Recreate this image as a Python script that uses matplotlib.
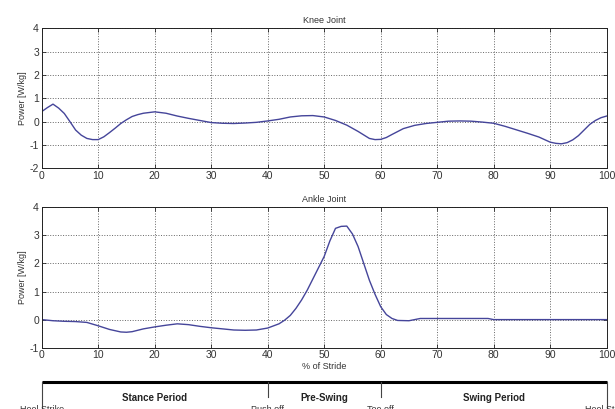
"""
Knee / ankle joint power over the gait stride
"""
import numpy as np
from matplotlib import pyplot as plt

plt.rcParams['font.family'] = ['Liberation Sans', 'DejaVu Sans']
plt.rcParams['axes.unicode_minus'] = False

# knee joint power [W/kg] vs % of stride
knee_x = [0, 1, 2, 3, 4, 5, 6, 7, 8, 9, 10, 11, 12, 13, 14, 15, 16, 17, 18, 20,
          22, 24, 26, 28, 30, 32, 34, 36, 38, 40, 42, 44, 46, 48, 50, 52, 54, 56,
          58, 59, 60, 61, 62, 64, 66, 68, 70, 72, 74, 76, 78, 80, 82, 84, 86, 88,
          90, 91, 92, 93, 94, 95, 96, 97, 98, 99, 100]
knee_p = [0.43, 0.6, 0.75, 0.58, 0.35, 0.0, -0.36, -0.58, -0.72, -0.77, -0.77,
          -0.65, -0.47, -0.28, -0.08, 0.08, 0.22, 0.3, 0.36, 0.42, 0.36, 0.24,
          0.14, 0.05, -0.04, -0.07, -0.08, -0.06, -0.03, 0.03, 0.1, 0.2, 0.25,
          0.26, 0.2, 0.05, -0.15, -0.42, -0.72, -0.77, -0.76, -0.68, -0.55, -0.3,
          -0.16, -0.08, -0.03, 0.02, 0.03, 0.02, -0.02, -0.07, -0.2, -0.35, -0.5,
          -0.66, -0.88, -0.93, -0.95, -0.9, -0.78, -0.6, -0.36, -0.12, 0.05, 0.17,
          0.24]

# ankle joint power [W/kg]
ankle_x = [0, 2, 4, 6, 8, 10, 12, 14, 15, 16, 18, 20, 22, 24, 26, 28, 30, 32, 34,
           36, 38, 40, 42, 43, 44, 45, 46, 47, 48, 49, 50, 51, 52, 53, 54, 55, 56,
           57, 58, 59, 60, 61, 62, 63, 65, 66, 67, 70, 75, 79, 80, 90, 100]
ankle_p = [0.0, -0.04, -0.06, -0.07, -0.1, -0.22, -0.35, -0.44, -0.45, -0.43,
           -0.33, -0.26, -0.2, -0.15, -0.18, -0.24, -0.29, -0.33, -0.37, -0.38,
           -0.37, -0.3, -0.15, -0.02, 0.15, 0.4, 0.7, 1.05, 1.45, 1.85, 2.25, 2.8,
           3.25, 3.32, 3.33, 3.05, 2.6, 2.0, 1.4, 0.9, 0.46, 0.18, 0.04, -0.03,
           -0.04, 0.0, 0.04, 0.04, 0.04, 0.04, 0.0, 0.0, 0.0]

# gait phases
phase_marks = [0, 40, 60, 100]
event_names = ['Heel Strike', 'Push off', 'Toe off', 'Heel Strike']
phase_names = ['Stance Period', 'Pre-Swing', 'Swing Period']

line_col = '#45459a'
txt_col = '#333333'


def style_ax(ax, ylim, title):
    ax.set_xlim(0, 100)
    ax.set_ylim(*ylim)
    ax.set_xticks(np.arange(0, 101, 10))
    ax.set_yticks(np.arange(ylim[0], ylim[1] + 1, 1))
    ax.tick_params(direction='in', top=True, right=True, labelsize=7.5,
                   length=3, width=0.6, colors='#222222', labelcolor=txt_col, pad=2)
    ax.grid(True, linestyle=':', color='#666666', linewidth=0.7)
    for s in ax.spines.values():
        s.set_linewidth(0.7)
        s.set_color('#222222')
    ax.set_ylabel('Power [W/kg]', fontsize=6.5, color=txt_col, labelpad=2)
    ax.set_title(title, fontsize=6.5, color=txt_col, pad=4)


fig = plt.figure(figsize=(6.15, 4.09), dpi=100)

ax1 = fig.add_axes([0.0678, 0.5885, 0.9187, 0.3423])
ax1.plot(knee_x, knee_p, color=line_col, linewidth=1.0)
style_ax(ax1, (-2, 4), 'Knee Joint')

ax2 = fig.add_axes([0.0678, 0.1499, 0.9187, 0.3433])
ax2.plot(ankle_x, ankle_p, color=line_col, linewidth=1.0)
style_ax(ax2, (-1, 4), 'Ankle Joint')
ax2.set_xlabel('% of Stride', fontsize=6.5, color=txt_col, labelpad=1)

# phase bar under the plots
ax3 = fig.add_axes([0.0678, 0.0, 0.9187, 0.0667])
ax3.set_xlim(0, 100)
ax3.set_ylim(0, 27.3)
ax3.axis('off')
ax3.plot([0, 100], [27.3, 27.3], color='black', linewidth=2.2,
         solid_capstyle='butt', clip_on=False)
for i, m in enumerate(phase_marks):
    bot = 0 if i in (0, len(phase_marks) - 1) else 12
    ax3.plot([m, m], [27.3, bot], color='#444444', linewidth=0.8, clip_on=False)
    ax3.text(m, 4.5, event_names[i], ha='center', va='top', fontsize=6.5,
             color=txt_col, clip_on=False)
for i, name in enumerate(phase_names):
    mid = (phase_marks[i] + phase_marks[i + 1]) / 2
    ax3.text(mid, 11, name, ha='center', va='center', fontsize=7,
             fontweight='bold', color='#222222')

plt.savefig('out.png', dpi=100)
